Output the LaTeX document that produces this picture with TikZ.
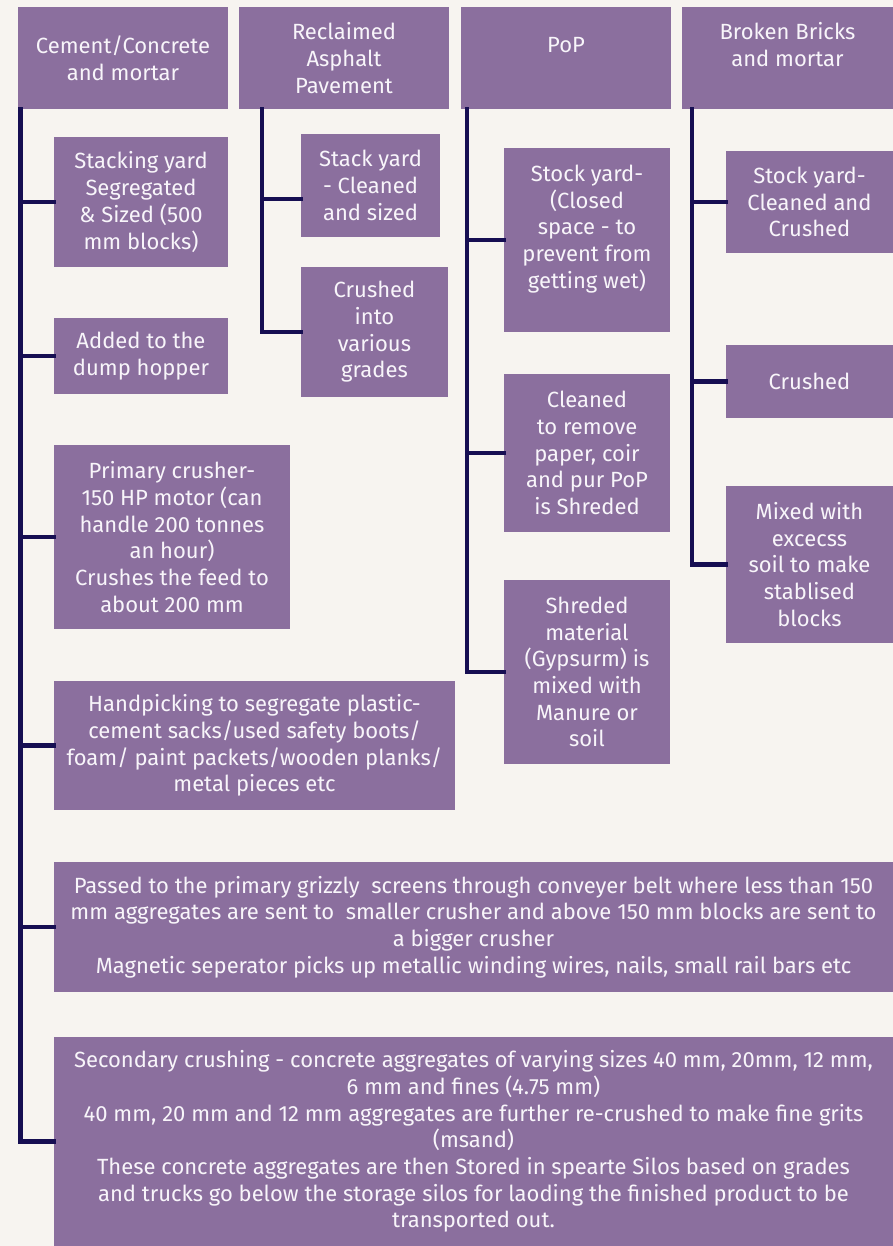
\documentclass[tikz,border=0pt]{standalone}
\usepackage{fontspec}
\setmainfont{Fira Sans}
\definecolor{boxc}{RGB}{139,111,158}
\definecolor{linec}{RGB}{22,14,82}
\definecolor{bgc}{RGB}{247,244,240}
\definecolor{txtc}{RGB}{248,245,250}
\tikzset{
  box/.style={fill=boxc, text=txtc, align=center, inner sep=0pt, outer sep=0pt,
    font=\fontsize{22}{26.7}\selectfont},
  conn/.style={draw=linec, line width=4.2pt, line join=miter, line cap=rect}
}
\newcommand{\bx}[6]{%
  \node[box, minimum width={(#4-#2)*1pt}, minimum height={(#5-#3)*1pt}]
    (#1) at ({(#2+#4)/2},{-(#3+#5)/2}) {#6};}
\begin{document}
\begin{tikzpicture}[x=1pt,y=1pt]
\fill[bgc] (0,0) rectangle (893,-1246);
\useasboundingbox (0,0) rectangle (893,-1246);
% headers
\bx{h1}{18}{7}{228}{109}{Cement/Concrete\\and mortar}
\bx{h2}{239}{7}{449}{109}{Reclaimed\\Asphalt\\Pavement}
\bx{h3}{461}{7}{671}{109}{PoP\\~}
\bx{h4}{682}{7}{893}{109}{Broken Bricks\\and mortar\\~}
% column 1
\bx{c1a}{54}{137}{228}{267}{Stacking yard\\Segregated\\\& Sized (500\\mm blocks)}
\bx{c1b}{54}{318}{228}{394}{Added to the\\dump hopper}
\bx{c1c}{54}{445}{290}{629}{Primary crusher-\\150 HP motor (can\\handle 200 tonnes\\an hour)\\Crushes the feed to\\about 200 mm}
\bx{c1d}{54}{681}{455}{810}{Handpicking to segregate plastic-\\cement sacks/used safety boots/\\foam/ paint packets/wooden planks/\\metal pieces etc}
\bx{c1e}{54}{862}{893}{992}{Passed to the primary grizzly\ \ screens through conveyer belt where less than 150\\mm aggregates are sent to\ \ smaller crusher and above 150 mm blocks are sent to\\a bigger crusher\\Magnetic seperator picks up metallic winding wires, nails, small rail bars etc}
\bx{c1f}{54}{1037}{893}{1246}{Secondary crushing - concrete aggregates of varying sizes 40 mm, 20mm, 12 mm,\\6 mm and fines (4.75 mm)\\40 mm, 20 mm and 12 mm aggregates are further re-crushed to make fine grits\\(msand)\\These concrete aggregates are then Stored in spearte Silos based on grades\\and trucks go below the storage silos for laoding the finished product to be\\transported out.}
% column 2
\bx{c2a}{301}{134}{440}{237}{Stack yard\\- Cleaned\\and sized}
\bx{c2b}{301}{267}{448}{397}{Crushed\\into\\various\\grades}
% column 3
\bx{c3a}{504}{148}{670}{332}{Stock yard-\\(Closed\\space - to\\prevent from\\getting wet)\\~}
\bx{c3b}{504}{374}{670}{532}{Cleaned\\to remove\\paper, coir\\and pur PoP\\is Shreded}
\bx{c3c}{504}{580}{670}{764}{Shreded\\material\\(Gypsurm) is\\mixed with\\Manure or\\soil}
% column 4
\bx{c4a}{726}{151}{893}{253}{Stock yard-\\Cleaned and\\Crushed}
\bx{c4b}{726}{345}{893}{418}{Crushed}
\bx{c4c}{726}{486}{893}{643}{Mixed with\\excecss\\soil to make\\stablised\\blocks}
% connectors
\draw[conn] ([xshift=2.5pt]h1.south west) |- (c1f.west);
\foreach \n in {c1a,c1b,c1c,c1d,c1e}
  \draw[conn] ([xshift=2.5pt]h1.south west) |- (\n.west);
\draw[conn] ([xshift=22.7pt]h2.south west) |- (c2b.west);
\draw[conn] ([xshift=22.7pt]h2.south west) |- ([yshift=-13.5pt]c2a.west);
\draw[conn] ([xshift=6pt]h3.south west) |- (c3c.west);
\foreach \n in {c3a,c3b}
  \draw[conn] ([xshift=6pt]h3.south west) |- (\n.west);
\draw[conn] ([xshift=10pt]h4.south west) |- (c4c.west);
\foreach \n in {c4a,c4b}
  \draw[conn] ([xshift=10pt]h4.south west) |- (\n.west);
\end{tikzpicture}
\end{document}
